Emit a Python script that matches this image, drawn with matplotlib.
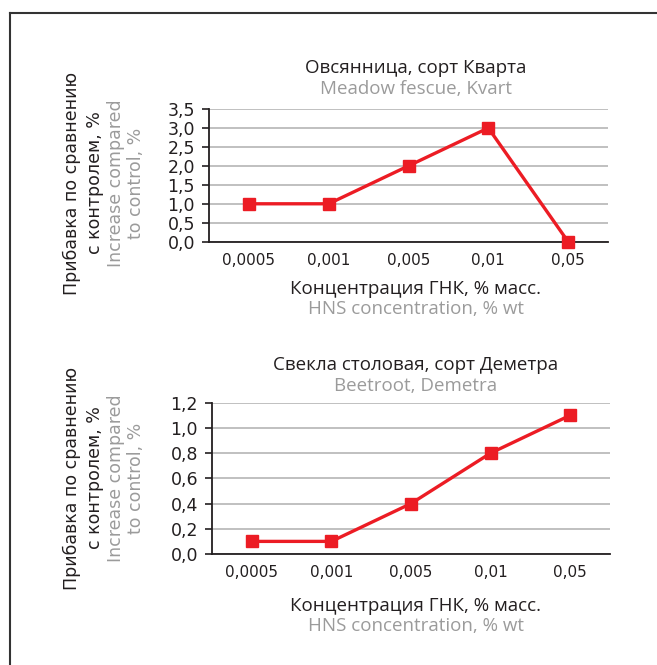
import matplotlib
matplotlib.use('Agg')
import matplotlib.pyplot as plt
from matplotlib.lines import Line2D

# concentrations (categorical x axis)
conc_labels = ['0,0005', '0,001', '0,005', '0,01', '0,05']

# yield increase vs control, %
fescue_vals = [1.0, 1.0, 2.0, 3.0, 0.0]
beet_vals = [0.1, 0.1, 0.4, 0.8, 1.1]

fescue_ticks = [0.0, 0.5, 1.0, 1.5, 2.0, 2.5, 3.0, 3.5]
beet_ticks = [0.0, 0.2, 0.4, 0.6, 0.8, 1.0, 1.2]

W, H = 657, 665
RED = '#ec1c24'
GRAY = '#9b9b9b'
DARK = '#231f20'
GRID = '#b5b5b5'
TITLE_FONT = ['Open Sans', 'DejaVu Sans']
TICK_FONT = ['DejaVu Sans']

fig = plt.figure(figsize=(W / 100, H / 100), dpi=100)
fig.patch.set_facecolor('white')


def px_axes(x0, y0, x1, y1):
    return fig.add_axes([x0 / W, 1 - y1 / H, (x1 - x0) / W, (y1 - y0) / H])


def px_text(x, y, s, **kw):
    fig.text(x / W, 1 - y / H, s, **kw)


def comma(v, nd):
    return f'{v:.{nd}f}'.replace('.', ',')


def draw_panel(box, vals, ticks, nd, title_ru, title_en, title_y, xlab_y, ylab_cy):
    ax = px_axes(*box)
    xs = list(range(len(vals)))
    ax.plot(xs, vals, color=RED, lw=2.4, marker='s', ms=8.5,
            markerfacecolor=RED, markeredgecolor=RED, clip_on=False, zorder=5)
    ax.set_xlim(-0.5, len(vals) - 0.5)
    ax.set_ylim(ticks[0], ticks[-1])
    ax.set_yticks(ticks)
    ax.set_yticklabels([comma(t, nd) for t in ticks], family=TICK_FONT,
                       fontsize=12.5, color=DARK)
    ax.set_xticks(xs)
    ax.set_xticklabels(conc_labels, family=TICK_FONT, fontsize=11, color=DARK)
    ax.tick_params(axis='x', length=0, pad=8)
    ax.tick_params(axis='y', length=5, width=1.2, color=DARK, pad=5)
    ax.grid(axis='y', color=GRID, lw=1.2)
    ax.set_axisbelow(True)
    for side in ('top', 'right'):
        ax.spines[side].set_visible(False)
    for side in ('left', 'bottom'):
        ax.spines[side].set_color(DARK)
        ax.spines[side].set_linewidth(1.3)

    cx = 416
    px_text(cx, title_y, title_ru, ha='center', va='center', fontsize=13.5,
            family=TITLE_FONT, color=DARK)
    px_text(cx, title_y + 21, title_en, ha='center', va='center', fontsize=13.5,
            family=TITLE_FONT, color=GRAY)
    px_text(cx, xlab_y, 'Концентрация ГНК, % масс.', ha='center', va='center',
            fontsize=13.5, family=TITLE_FONT, color=DARK)
    px_text(cx, xlab_y + 20, 'HNS concentration, % wt', ha='center', va='center',
            fontsize=13.5, family=TITLE_FONT, color=GRAY)

    px_text(72, ylab_cy, 'Прибавка по сравнению', rotation=90, ha='center',
            va='center', fontsize=12.5, family=TICK_FONT, color=DARK)
    px_text(95, ylab_cy, 'с контролем, %', rotation=90, ha='center',
            va='center', fontsize=12.5, family=TICK_FONT, color=DARK)
    px_text(116, ylab_cy, 'Increase compared', rotation=90, ha='center',
            va='center', fontsize=12.5, family=TICK_FONT, color=GRAY)
    px_text(136, ylab_cy, 'to control, %', rotation=90, ha='center',
            va='center', fontsize=12.5, family=TICK_FONT, color=GRAY)
    return ax


draw_panel((209, 109, 608, 241.7), fescue_vals, fescue_ticks, 1,
           'Овсянница, сорт Кварта', 'Meadow fescue, Kvart', 68, 289, 183)
draw_panel((212, 402.7, 610, 554), beet_vals, beet_ticks, 1,
           'Свекла столовая, сорт Деметра', 'Beetroot, Demetra', 365, 606, 478)

# outer frame: top and left edges
fig.add_artist(Line2D([9.5 / W, 1], [1 - 12.5 / H] * 2, color='#333333', lw=1.5))
fig.add_artist(Line2D([9.5 / W] * 2, [1 - 12.5 / H, 0], color='#333333', lw=1.5))

fig.savefig('out.png', dpi=100)
